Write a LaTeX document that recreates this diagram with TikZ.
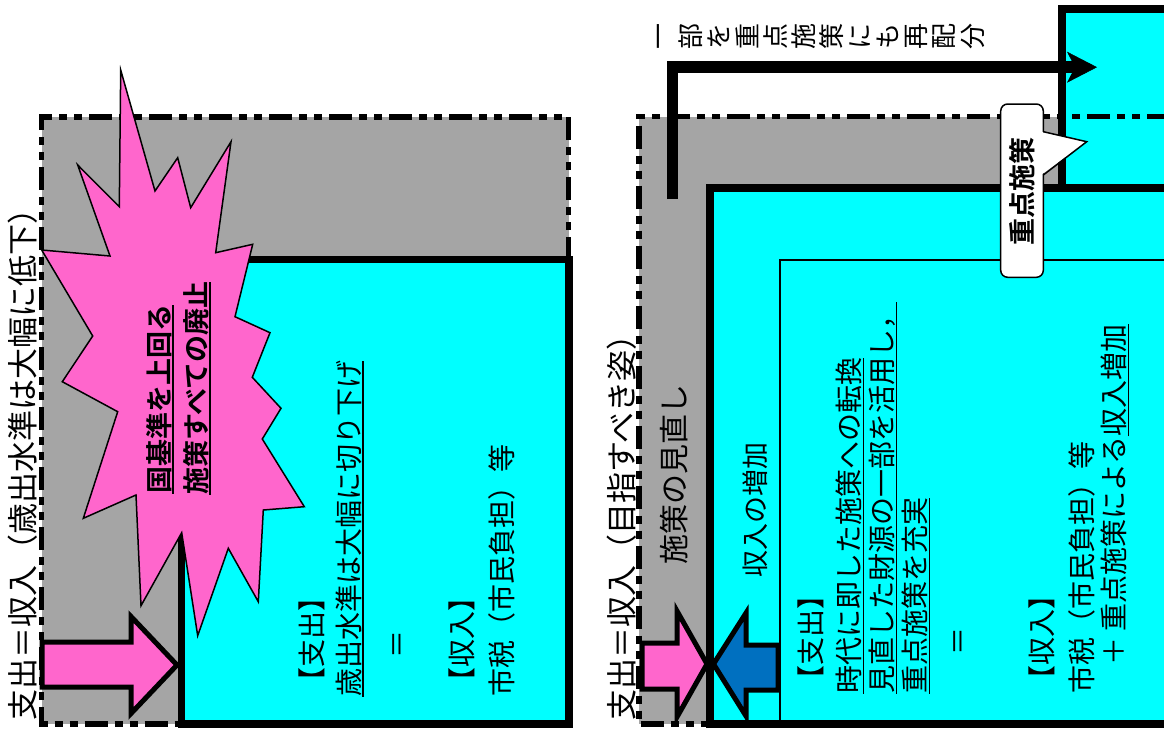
\documentclass[tikz,border=0pt]{standalone}
\usepackage{fontspec}
\setmainfont{Noto Sans CJK JP}[BoldFont={Noto Sans CJK JP Bold}]
\usetikzlibrary{arrows.meta}
\definecolor{cy}{HTML}{00FFFF}
\definecolor{gr}{HTML}{A5A5A5}
\definecolor{pk}{HTML}{FF66CC}
\definecolor{bl}{HTML}{0070C0}
\newcommand{\ulx}[2][1.3pt]{\setbox0=\hbox{#2}\makebox[0pt][l]{\raisebox{-0.17em}{\rule{\wd0}{#1}}}\box0}
\tikzset{
  dd/.style={draw=black, line width=5.5pt, dash pattern=on 23pt off 7pt on 8pt off 7pt on 8pt off 7pt},
  thickbox/.style={draw=black, line width=7.5pt, fill=cy},
  vt/.style={rotate=90, anchor=base west, inner sep=0pt, font=\fontsize{28}{30}\selectfont},
  bigt/.style={vt, font=\fontsize{31}{33}\selectfont},
  boldt/.style={vt, font=\fontsize{27}{30}\selectfont\bfseries},
  eqt/.style={rotate=90, anchor=center, inner sep=0pt, font=\fontsize{28}{30}\selectfont},
  fatarrow/.style={draw=black, line width=5pt, line join=miter, miter limit=10},
  burst/.style={draw=black, line width=1.5pt, fill=pk, line join=miter, miter limit=12},
}
\begin{document}
\begin{tikzpicture}[x=1pt,y=-1pt]
\useasboundingbox (0,0) rectangle (1164,729);

% ---------------- left panel ----------------
\fill[gr] (41.5,117) rectangle (568.5,724);
\draw[dd] (568.5,260) -- (568.5,117) -- (41.5,117) -- (41.5,724) -- (182,724);
\draw[thickbox] (181.7,259.5) rectangle (569,724);

\draw[burst] (120.7,70) -- (155,191) -- (177.7,157.7) -- (190.7,207.7) -- (231,141.7)
  -- (215.7,252.7) -- (252.7,244.3) -- (235,316.7) -- (270,332.7) -- (252.3,377.3)
  -- (281,408.3) -- (262.3,439) -- (304.3,506.7) -- (263.3,510) -- (258.3,601.7)
  -- (228.3,548.3) -- (197.7,635.7) -- (181.7,532.7) -- (141,605.7) -- (136,495)
  -- (83.3,518.3) -- (117.7,411.7) -- (62.3,381.7) -- (92.7,336) -- (41.7,250)
  -- (110,256) -- (77.7,165) -- (119.3,206.7) -- cycle;

\draw[fatarrow, fill=pk] (42,642) -- (131,642) -- (131,616.5) -- (177,665)
  -- (131,713.5) -- (131,687) -- (42,687) -- cycle;

\node[bigt] (lt) at (34.8,721) {支出＝収入（歳出水準は大幅に低下）};
\node[boldt] (lb1) at (169.3,494) {\ulx[1.8pt]{国基準を上回る}};
\node[boldt] (lb2) at (206,495) {\ulx[1.8pt]{施策すべての廃止}};
\node[vt] (ls1) at (322.6,696) {【支出】};
\node[vt] (ls2) at (359,697) {\ulx{歳出水準は大幅に切り下げ}};
\node[eqt] (leq) at (400,644) {＝};
\node[vt] (lr1) at (472.6,696) {【収入】};
\node[vt] (lr2) at (512,697) {市税（市民負担）等};

% ---------------- right panel ----------------
\fill[gr] (639,116.7) rectangle (1170,724);
\draw[thickbox] (1062,9) rectangle (1175,188);
\draw[dd] (1170,116.7) -- (639,116.7) -- (639,724) -- (712,724);
\draw[thickbox] (710,188) rectangle (1175,724);
\draw[draw=black, line width=2pt] (780,260) rectangle (1175,724);

\coordinate (a0) at (672.5,199);
\coordinate (a1) at (1097,67.2);
\draw[line width=11.6pt, line join=miter,
  -{Stealth[length=30pt,width=31pt,inset=8pt,line width=0.5pt]}] (a0) |- (a1);

\draw[fatarrow, fill=pk] (642,643) -- (677,643) -- (677,611) -- (707,664)
  -- (677,717) -- (677,689) -- (642,689) -- cycle;
\draw[fatarrow, fill=bl] (778,645) -- (746,645) -- (746,613) -- (713.5,664)
  -- (746,716) -- (746,690) -- (778,690) -- cycle;

% callout
\draw[line width=1.5pt, fill=white, rounded corners=7pt] (1000.7,104) rectangle (1043.3,277.3);
\fill[white] (1041,131.7) -- (1086.7,141.7) -- (1041,175) -- cycle;
\draw[line width=1.5pt, line join=miter] (1043.3,131.7) -- (1086.7,141.7) -- (1043.3,175);
\node[rotate=90, anchor=center, inner sep=0pt, font=\fontsize{27}{30}\selectfont\bfseries] (co) at (1021.7,191.7) {重点施策};

% top vertical-style text
\foreach \c [count=\i] in {一,部,を,重,点,施,策,に,も,再,配,分} {
  \node[rotate=90, anchor=center, inner sep=0pt, font=\fontsize{26}{28}\selectfont] (tp\i) at ({662.5+28.2*(\i-1)},36.7) {\c};
}

\node[bigt] (rt) at (633.4,721) {支出＝収入（目指すべき姿）};
\node[vt, font=\fontsize{30}{32}\selectfont] (rm) at (685.4,565) {施策の見直し};
\node[vt, font=\fontsize{27}{30}\selectfont] (ri) at (765,578) {収入の増加};
\node[vt] (rs1) at (821.4,694) {【支出】};
\node[vt] (rs2) at (859.6,694) {\ulx{時代に即した施策への転換}};
\node[vt] (rs3) at (892.6,694) {\ulx{見直した財源の一部を活用し，}};
\node[vt] (rs4) at (925.6,694) {\ulx{重点施策を充実}};
\node[eqt] (req) at (961,641) {＝};
\node[vt] (rr1) at (1052.6,694) {【収入】};
\node[vt] (rr2) at (1092.6,694) {市税（市民負担）等};
\node[vt] (rr3) at (1124.6,694) {　＋ 重点施策による\ulx{収入増加}};
\end{tikzpicture}
\end{document}
